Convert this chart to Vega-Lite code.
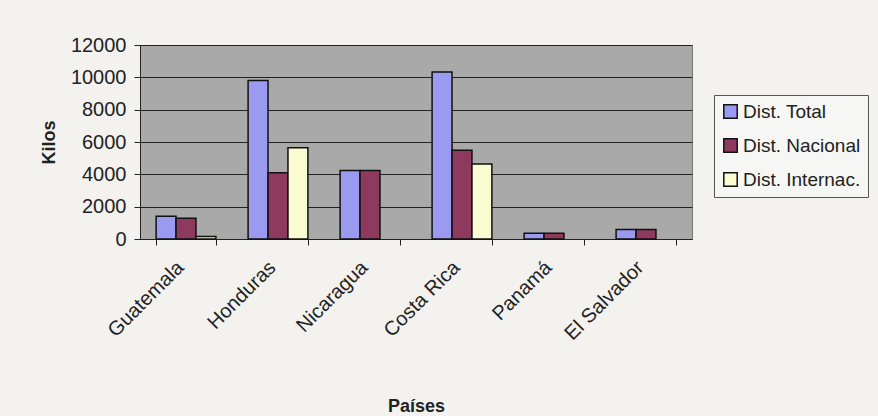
{
  "$schema": "https://vega.github.io/schema/vega-lite/v6.json",
  "autosize": "none",
  "padding": {"left": 140, "top": 45, "right": 186, "bottom": 177},
  "width": 552,
  "height": 194,
  "background": "#f3f2ef",
  "config": {
    "font": "Liberation Sans",
    "view": {"fill": "#a9a9a9", "stroke": "#777777", "strokeWidth": 1}
  },
  "data": {
    "values": [
      {"pais": "Guatemala", "serie": "Dist. Total", "kilos": 1400},
      {"pais": "Guatemala", "serie": "Dist. Nacional", "kilos": 1280},
      {"pais": "Guatemala", "serie": "Dist. Internac.", "kilos": 150},
      {"pais": "Honduras", "serie": "Dist. Total", "kilos": 9800},
      {"pais": "Honduras", "serie": "Dist. Nacional", "kilos": 4100},
      {"pais": "Honduras", "serie": "Dist. Internac.", "kilos": 5640},
      {"pais": "Nicaragua", "serie": "Dist. Total", "kilos": 4240},
      {"pais": "Nicaragua", "serie": "Dist. Nacional", "kilos": 4240},
      {"pais": "Nicaragua", "serie": "Dist. Internac.", "kilos": 0},
      {"pais": "Costa Rica", "serie": "Dist. Total", "kilos": 10330},
      {"pais": "Costa Rica", "serie": "Dist. Nacional", "kilos": 5490},
      {"pais": "Costa Rica", "serie": "Dist. Internac.", "kilos": 4640},
      {"pais": "Panamá", "serie": "Dist. Total", "kilos": 360},
      {"pais": "Panamá", "serie": "Dist. Nacional", "kilos": 360},
      {"pais": "Panamá", "serie": "Dist. Internac.", "kilos": 0},
      {"pais": "El Salvador", "serie": "Dist. Total", "kilos": 590},
      {"pais": "El Salvador", "serie": "Dist. Nacional", "kilos": 590},
      {"pais": "El Salvador", "serie": "Dist. Internac.", "kilos": 0}
    ]
  },
  "transform": [{"filter": "datum.kilos > 0"}],
  "mark": {"type": "bar", "stroke": "#111111", "strokeWidth": 1.5},
  "encoding": {
    "x": {
      "field": "pais",
      "type": "nominal",
      "sort": null,
      "scale": {"paddingInner": 0.35, "paddingOuter": 0.175},
      "axis": {
        "title": "Países",
        "titleFontSize": 18,
        "titleFontWeight": "bold",
        "titleColor": "#222222",
        "titlePadding": 54,
        "labelAngle": -45,
        "labelFontSize": 20,
        "labelColor": "#222222",
        "labelPadding": 12,
        "labelOffset": -13,
        "tickBand": "extent",
        "tickColor": "#222222",
        "tickSize": 6,
        "domainColor": "#222222",
        "grid": false
      }
    },
    "xOffset": {
      "field": "serie",
      "sort": ["Dist. Total", "Dist. Nacional", "Dist. Internac."]
    },
    "y": {
      "field": "kilos",
      "type": "quantitative",
      "scale": {"domain": [0, 12000], "nice": false},
      "axis": {
        "title": "Kilos",
        "titleFontSize": 18,
        "titleFontWeight": "bold",
        "titleColor": "#222222",
        "titlePadding": 12,
        "values": [0, 2000, 4000, 6000, 8000, 10000, 12000],
        "format": "d",
        "labelFontSize": 20,
        "labelColor": "#222222",
        "labelPadding": 8,
        "tickColor": "#222222",
        "tickSize": 6,
        "domainColor": "#222222",
        "grid": true,
        "gridColor": "#222222",
        "gridWidth": 1
      }
    },
    "color": {
      "field": "serie",
      "type": "nominal",
      "sort": ["Dist. Total", "Dist. Nacional", "Dist. Internac."],
      "scale": {
        "domain": ["Dist. Total", "Dist. Nacional", "Dist. Internac."],
        "range": ["#9a9af0", "#8e3a5e", "#fbfbd2"]
      },
      "legend": {
        "title": null,
        "orient": "none",
        "legendX": 574,
        "legendY": 50,
        "labelFontSize": 19,
        "labelColor": "#222222",
        "symbolType": "square",
        "symbolSize": 180,
        "symbolStrokeColor": "#111111",
        "symbolStrokeWidth": 1.5,
        "rowPadding": 13,
        "padding": 7,
        "strokeColor": "#555555",
        "fillColor": "#f6f6f4",
        "labelOffset": 3
      }
    }
  }
}
